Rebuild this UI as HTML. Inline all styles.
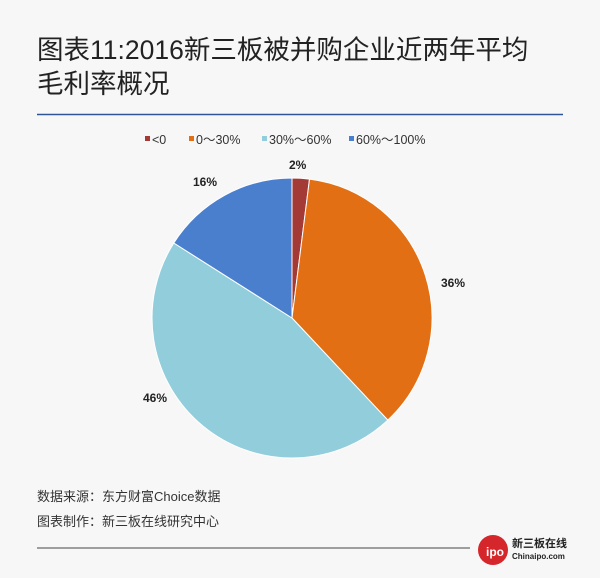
<!DOCTYPE html>
<html><head><meta charset="utf-8"><style>
html,body{margin:0;padding:0;background:#f7f7f7;}
body{width:600px;height:578px;position:relative;overflow:hidden;font-family:"Liberation Sans","Noto Sans CJK SC",sans-serif;}
.t{position:absolute;left:37px;font-size:26.5px;color:#222;line-height:33px;}
</style></head><body>
<div class="t" style="top:34px">图表11:2016新三板被并购企业近两年平均</div>
<div class="t" style="top:68px">毛利率概况</div>
<svg width="600" height="578" style="position:absolute;left:0;top:0">
<line x1="37" y1="114.5" x2="563" y2="114.5" stroke="#2f5597" stroke-width="1.5"/>
<g font-size="12.5" fill="#333" font-family="Liberation Sans, Noto Sans CJK SC, sans-serif">
<rect x="145" y="136" width="5" height="5" fill="#a33a36"/><text x="152" y="144">&lt;0</text>
<rect x="189" y="136" width="5" height="5" fill="#e26f13"/><text x="196" y="144">0～30%</text>
<rect x="262" y="136" width="5" height="5" fill="#92cddc"/><text x="269" y="144">30%～60%</text>
<rect x="349" y="136" width="5" height="5" fill="#4a7fcd"/><text x="356" y="144">60%～100%</text>
</g>
<g stroke="#fff" stroke-width="1">
<path d="M292,318 L292,178 A140,140 0 0 1 309.5,179.1 Z" fill="#a33a36"/>
<path d="M292,318 L309.5,179.1 A140,140 0 0 1 387.8,420.1 Z" fill="#e26f13"/>
<path d="M292,318 L387.8,420.1 A140,140 0 0 1 173.8,243 Z" fill="#92cddc"/>
<path d="M292,318 L173.8,243 A140,140 0 0 1 292,178 Z" fill="#4a7fcd"/>
</g>
<g font-size="12" font-weight="bold" fill="#222" font-family="Liberation Sans, sans-serif">
<text x="289" y="169">2%</text>
<text x="441" y="287">36%</text>
<text x="143" y="402">46%</text>
<text x="193" y="186">16%</text>
</g>
<g font-size="13" fill="#333" font-family="Liberation Sans, Noto Sans CJK SC, sans-serif">
<text x="37" y="501">数据来源：东方财富Choice数据</text>
<text x="37" y="526">图表制作：新三板在线研究中心</text>
</g>
<line x1="37" y1="548" x2="470" y2="548" stroke="#444" stroke-width="1"/>
<circle cx="493" cy="550" r="15" fill="#d5262c"/>
<text x="486" y="556" font-size="12" font-weight="bold" fill="#fff" font-family="Liberation Sans, sans-serif">ipo</text>
<text x="512" y="547" font-size="11" font-weight="bold" fill="#222" font-family="Liberation Sans, Noto Sans CJK SC, sans-serif">新三板在线</text>
<text x="512" y="559" font-size="8" font-weight="bold" fill="#222" font-family="Liberation Sans, sans-serif">Chinaipo.com</text>
</svg>
</body></html>
